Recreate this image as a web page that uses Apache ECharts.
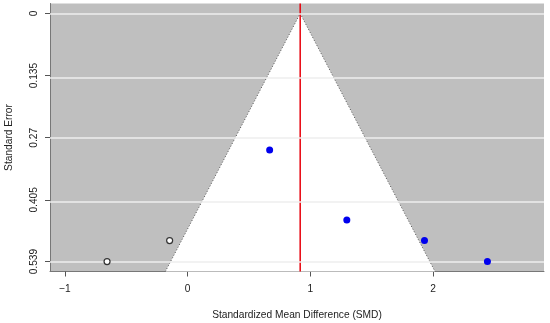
<!DOCTYPE html>
<html><head><meta charset="utf-8">
<script src="https://cdn.jsdelivr.net/npm/echarts@6/dist/echarts.min.js"></script>
<style>html,body{margin:0;padding:0;background:#fff}#c{width:550px;height:323px}</style>
</head><body><div id="c"></div>
<script>
// Data
var estimate = 0.917;
var observedSMD = [0.668, 1.297, 1.930, 2.443];
var observedSE = [0.2966, 0.4485, 0.4934, 0.539];
var filledSMD = [-0.147, -0.657];
var filledSE = [0.4934, 0.539];
var yTicks = [0, 0.135, 0.27, 0.405, 0.539];
var xTicks = [-1, 0, 1, 2];
var xRange = [-1.122, 2.904];
var yRange = [-0.0216, 0.5606];
var zCrit = 1.96;

var seMax = yRange[1];
var funnelPts = [[estimate, 0], [estimate - zCrit * seMax, seMax], [estimate + zCrit * seMax, seMax]];
var font = 'Liberation Sans, Arial, sans-serif';
var chart = echarts.init(document.getElementById('c'), null, {renderer: 'canvas'});
chart.setOption({
  animation: false,
  grid: {left: 50, right: 6, top: 3.5, bottom: 51.5, show: true, backgroundColor: '#bfbfbf', borderWidth: 0,
    containLabel: false, outerBoundsMode: 'none'},
  xAxis: {
    type: 'value', min: xRange[0], max: xRange[1],
    name: 'Standardized Mean Difference (SMD)', nameLocation: 'middle', nameGap: 39,
    nameTextStyle: {fontFamily: font, fontSize: 10.2, color: '#222'},
    axisLine: {show: true, onZero: false, lineStyle: {color: '#777', width: 1}},
    axisTick: {show: true, length: 5, customValues: xTicks, lineStyle: {color: '#555'}},
    axisLabel: {customValues: xTicks, fontFamily: font, fontSize: 10.2, color: '#222', margin: 13,
      formatter: function (v) { return v < 0 ? '\u2212' + Math.abs(v) : String(v); }},
    splitLine: {show: false}
  },
  yAxis: {
    type: 'value', inverse: true, min: yRange[0], max: yRange[1],
    name: 'Standard Error', nameLocation: 'middle', nameGap: 36, nameRotate: 90,
    nameTextStyle: {fontFamily: font, fontSize: 10.2, color: '#222'},
    axisLine: {show: true, onZero: false, lineStyle: {color: '#777', width: 1}},
    axisTick: {show: true, length: 5, customValues: yTicks, lineStyle: {color: '#555'}},
    axisLabel: {customValues: yTicks, rotate: 90, fontFamily: font, fontSize: 10.2, color: '#222', margin: 11,
      formatter: function (v) { return String(v); }},
    splitLine: {show: false}
  },
  series: [
    {
      type: 'line', data: [], silent: true, z: 1,
      markLine: {symbol: 'none', silent: true, label: {show: false},
        lineStyle: {color: '#eeeeee', type: 'solid', width: 1.5},
        data: yTicks.map(function (t) { return {yAxis: t}; })}
    },
    {
      type: 'custom', silent: true, z: 2,
      renderItem: function (params, api) {
        var pts = funnelPts.map(function (p) { return api.coord(p); });
        return {type: 'polygon', shape: {points: pts}, style: {fill: '#ffffff', stroke: null}};
      },
      data: [0]
    },
    {
      type: 'line', silent: true, z: 3, symbol: 'none',
      data: [funnelPts[1], funnelPts[0], funnelPts[2]],
      lineStyle: {color: '#555', width: 1, type: [1, 2]}
    },
    {
      type: 'line', silent: true, z: 4, symbol: 'none',
      data: [[estimate, yRange[0]], [estimate, yRange[1]]],
      lineStyle: {color: '#e8000b', width: 1.5}
    },
    {
      type: 'scatter', z: 5, symbolSize: 7,
      data: observedSMD.map(function (v, i) { return [v, observedSE[i]]; }),
      itemStyle: {color: '#0000ee', opacity: 1}
    },
    {
      type: 'scatter', z: 5, symbolSize: 6,
      data: filledSMD.map(function (v, i) { return [v, filledSE[i]]; }),
      itemStyle: {color: '#ffffff', borderColor: '#333', borderWidth: 1.2, opacity: 1}
    }
  ]
});
</script></body></html>
